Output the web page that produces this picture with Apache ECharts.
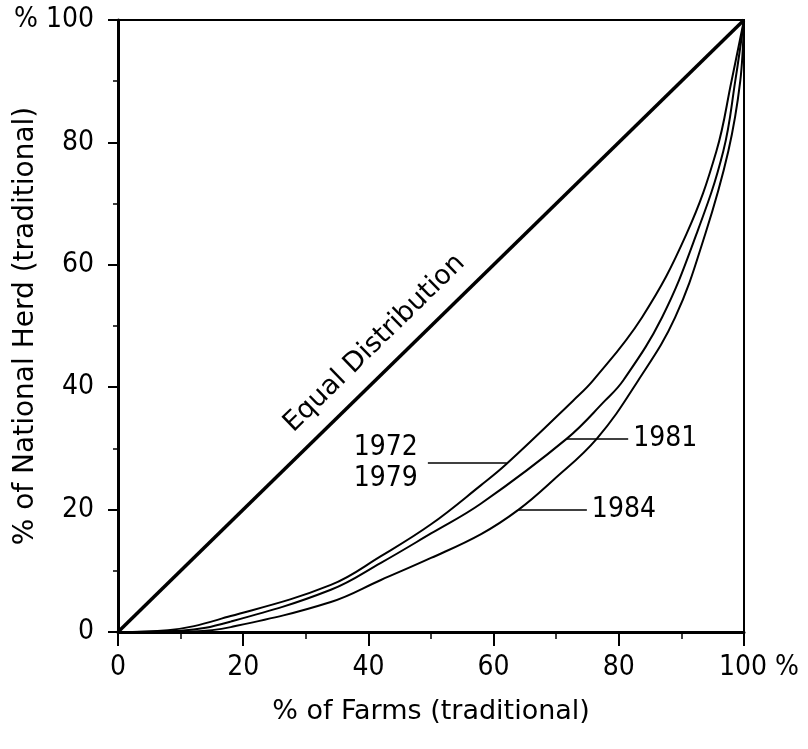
<!DOCTYPE html>
<html>
<head>
<meta charset="utf-8">
<script src="https://cdn.jsdelivr.net/npm/echarts@6/dist/echarts.min.js"></script>
<style>
  html, body { margin: 0; padding: 0; background: #fff; }
  #main { width: 808px; height: 749px; }
</style>
</head>
<body>
<div id="main"></div>
<script>
// Lorenz curves
var x7279 = [0, 8, 18, 34, 42, 50, 58, 62, 72.7, 75.9, 83.7, 90.8, 95.6, 98, 100];
var y7279 = [0, 0.3, 2.6, 7.7, 12.4, 17.6, 24, 27.4, 37.8, 41.1, 51.4, 65, 78.6, 90, 100];

var x1981 = [0, 10, 18, 34, 42, 50, 58, 71.7, 77.8, 80.7, 86.9, 92.4, 96.7, 98.6, 100];
var y1981 = [0, 0.2, 1.7, 6.9, 11.3, 16.1, 21, 31.6, 37.8, 41.1, 51.4, 65, 78.6, 90, 100];

var x1984 = [0, 12, 18, 34, 42, 50, 58, 64, 69.5, 76.5, 83.1, 89, 93.8, 97.5, 99.4, 100];
var y1984 = [0, 0.1, 0.8, 4.9, 8.5, 12.1, 16, 20, 24.8, 31.6, 41.1, 51.4, 65, 78.6, 90, 100];

var xEqual = [0, 100];
var yEqual = [0, 100];

var xTickLabels = ['0', '20', '40', '60', '80', '100'];
var yTickLabels = ['0', '20', '40', '60', '80', '%100'];

function pairs(xs, ys) {
    return xs.map(function (x, i) { return [x, ys[i]]; });
}

var tickFont = 'Liberation Sans Narrow, DejaVu Sans Condensed, sans-serif';
var titleFont = 'DejaVu Sans, sans-serif';

var chart = echarts.init(document.getElementById('main'));

function curve(name, xs, ys, callout) {
    return {
        name: name,
        type: 'line',
        smooth: 0.4,
        symbol: 'none',
        data: pairs(xs, ys),
        lineStyle: { color: '#000', width: 2 },
        z: 3,
        markLine: {
            silent: true,
            symbol: 'none',
            lineStyle: { color: '#000', width: 1.5, type: 'solid' },
            label: {
                show: true,
                position: callout.pos,
                distance: callout.dist,
                formatter: callout.text,
                color: '#000',
                fontFamily: tickFont,
                fontSize: 28,
                lineHeight: 31
            },
            data: [[{ coord: callout.from }, { coord: callout.to }]]
        }
    };
}

option = {
    animation: false,
    backgroundColor: '#fff',
    grid: {
        left: 118,
        right: 64,
        top: 20,
        bottom: 117,
        containLabel: false,
        outerBoundsMode: 'none',
        show: true,
        borderColor: '#000',
        borderWidth: 2
    },
    xAxis: {
        type: 'value',
        min: 0,
        max: 100,
        interval: 20,
        name: '% of Farms (traditional)',
        nameLocation: 'middle',
        nameGap: 66,
        nameMoveOverlap: false,
        nameTextStyle: { color: '#000', fontFamily: titleFont, fontSize: 27 },
        axisLine: { lineStyle: { color: '#000', width: 3 } },
        axisTick: { inside: false, length: 14, lineStyle: { color: '#000', width: 2 } },
        minorTick: { show: true, splitNumber: 2, length: 7, lineStyle: { color: '#000', width: 1.5 } },
        splitLine: { show: false },
        axisLabel: {
            margin: 22,
            color: '#000',
            fontFamily: tickFont,
            fontSize: 28,
            formatter: function (v) {
                var s = xTickLabels[Math.round(v / 20)];
                return s === '100' ? '{n|100}{p| %}' : s;
            },
            rich: {
                n: { fontFamily: tickFont, fontSize: 28, color: '#000', padding: [0, 0, 0, 30] },
                p: { fontFamily: tickFont, fontSize: 28, color: '#000' }
            }
        }
    },
    yAxis: {
        type: 'value',
        min: 0,
        max: 100,
        interval: 20,
        name: '% of National Herd (traditional)',
        nameLocation: 'middle',
        nameGap: 78,
        nameMoveOverlap: false,
        nameTextStyle: { color: '#000', fontFamily: titleFont, fontSize: 28 },
        axisLine: { lineStyle: { color: '#000', width: 3 } },
        axisTick: { inside: false, length: 10, lineStyle: { color: '#000', width: 2 } },
        minorTick: { show: true, splitNumber: 2, length: 5, lineStyle: { color: '#000', width: 1.5 } },
        splitLine: { show: false },
        axisLabel: {
            margin: 24,
            color: '#000',
            fontFamily: tickFont,
            fontSize: 28,
            formatter: function (v) {
                var s = yTickLabels[Math.round(v / 20)];
                return s === '%100' ? '% 100' : s;
            }
        }
    },
    series: [
        {
            name: 'Equal Distribution',
            type: 'line',
            symbol: 'none',
            data: pairs(xEqual, yEqual),
            lineStyle: { color: '#000', width: 3.5 },
            z: 4
        },
        curve('1972/1979', x7279, y7279, { text: '1972\n1979', pos: 'start', dist: 10, from: [49.5, 27.6], to: [62.1, 27.6] }),
        curve('1981', x1981, y1981, { text: '1981', pos: 'end', dist: 5, from: [71.7, 31.6], to: [81.5, 31.6] }),
        curve('1984', x1984, y1984, { text: '1984', pos: 'end', dist: 5, from: [64, 20], to: [74.9, 20] })
    ]
};

chart.setOption(option);

// rotated label along the diagonal
var p0 = chart.convertToPixel({ gridIndex: 0 }, [0, 0]);
var p1 = chart.convertToPixel({ gridIndex: 0 }, [100, 100]);
var pm = chart.convertToPixel({ gridIndex: 0 }, [44, 44]);
var ang = Math.atan2(p0[1] - p1[1], p1[0] - p0[0]);
var off = 27;
chart.setOption({
    graphic: [{
        type: 'text',
        x: pm[0] - Math.sin(ang) * off,
        y: pm[1] - Math.cos(ang) * off,
        rotation: ang,
        style: {
            text: 'Equal Distribution',
            fill: '#000',
            font: '27px ' + titleFont,
            align: 'center',
            verticalAlign: 'middle'
        }
    }]
});
</script>
</body>
</html>
